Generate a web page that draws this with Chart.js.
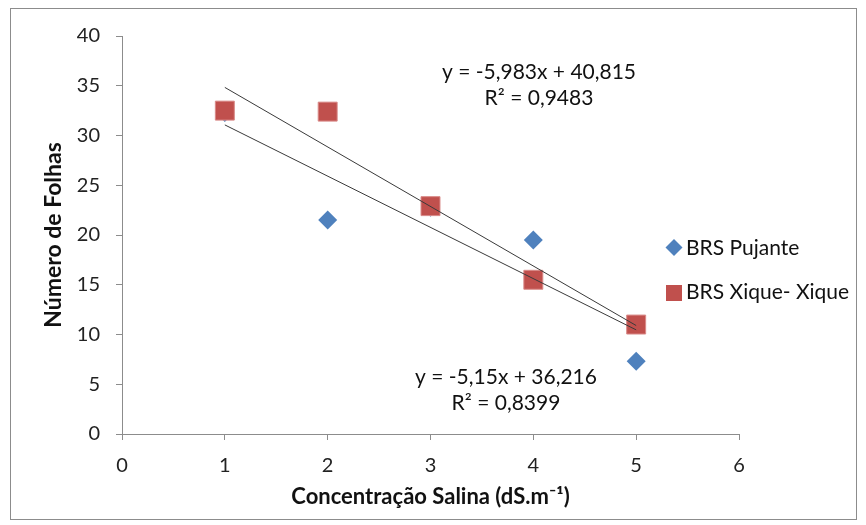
<!DOCTYPE html>
<html>
<head>
<meta charset="utf-8">
<script src="https://cdn.jsdelivr.net/npm/chart.js@4"></script>
<style>
  html, body { margin: 0; padding: 0; background: #fff; }
  #wrap { width: 866px; height: 525px; }
</style>
</head>
<body>
<div id="wrap"><canvas id="chart" width="866" height="525"></canvas></div>
<script>
const salinity = [1, 2, 3, 4, 5];
const pujante = [32.3, 21.5, 22.8, 19.5, 7.3];
const xique = [32.5, 32.4, 22.9, 15.5, 11.0];

// trend lines as printed on the chart
const pujanteFit = [-5.15, 36.216];
const xiqueFit = [-5.983, 40.815];
const pujanteLabel = ["y = -5,15x + 36,216", "R² = 0,8399"];
const xiqueLabel = ["y = -5,983x + 40,815", "R² = 0,9483"];

const xTicks = [0, 1, 2, 3, 4, 5, 6];
const yTicks = [0, 5, 10, 15, 20, 25, 30, 35, 40];

const FONT = "Lato, 'Open Sans', sans-serif";
const BLUE = "#4f81bd";
const RED = "#c0504d";

function fitLine(fit) {
  const x0 = salinity[0], x1 = salinity[salinity.length - 1];
  return [
    { x: x0, y: fit[0] * x0 + fit[1] },
    { x: x1, y: fit[0] * x1 + fit[1] },
  ];
}

const extras = {
  id: "extras",
  beforeDraw(chart) {
    const c = chart.ctx;
    c.save();
    c.fillStyle = "#fff";
    c.fillRect(0, 0, chart.width, chart.height);
    c.strokeStyle = "#8c8c8c";
    c.lineWidth = 1;
    c.strokeRect(10.5, 8.5, 846, 511);
    c.restore();
  },
  afterDraw(chart) {
    const c = chart.ctx;
    c.save();
    c.fillStyle = "#111";
    c.font = "21px " + FONT;
    c.textAlign = "center";
    c.textBaseline = "middle";
    c.fillText(xiqueLabel[0], 539, 72);
    c.fillText(xiqueLabel[1], 539, 98);
    c.fillText(pujanteLabel[0], 506, 377);
    c.fillText(pujanteLabel[1], 506, 403);

    // legend
    c.textAlign = "left";
    c.fillStyle = BLUE;
    c.beginPath();
    c.moveTo(674, 239); c.lineTo(682.5, 247.5); c.lineTo(674, 256); c.lineTo(665.5, 247.5);
    c.closePath(); c.fill();
    c.fillStyle = RED;
    c.fillRect(666, 285, 16, 16);
    c.fillStyle = "#111";
    c.fillText("BRS Pujante", 686, 248);
    c.fillText("BRS Xique- Xique", 686, 292);
    c.restore();
  },
};

new Chart(document.getElementById("chart"), {
  type: "scatter",
  data: {
    datasets: [
      {
        type: "line",
        data: fitLine(xiqueFit),
        borderColor: "#3a3a3a",
        borderWidth: 1,
        pointRadius: 0,
        order: 0,
      },
      {
        type: "line",
        data: fitLine(pujanteFit),
        borderColor: "#3a3a3a",
        borderWidth: 1,
        pointRadius: 0,
        order: 0,
      },
      {
        label: "BRS Xique- Xique",
        data: salinity.map((x, i) => ({ x: x, y: xique[i] })),
        pointStyle: "rect",
        pointRadius: 13.4,
        backgroundColor: RED,
        borderColor: "#d98a88",
        borderWidth: 1,
        order: 1,
      },
      {
        label: "BRS Pujante",
        data: salinity.map((x, i) => ({ x: x, y: pujante[i] })),
        pointStyle: "rectRot",
        pointRadius: 9.5,
        backgroundColor: BLUE,
        borderColor: BLUE,
        borderWidth: 0,
        order: 2,
      },
    ],
  },
  options: {
    responsive: false,
    animation: false,
    events: [],
    layout: { padding: { left: 0, right: 127, top: 36, bottom: 0 } },
    plugins: {
      legend: { display: false },
      tooltip: { enabled: false },
    },
    scales: {
      x: {
        type: "linear",
        min: 0,
        max: 6,
        afterFit(s) { s.height = 91; },
        afterBuildTicks(s) { s.ticks = xTicks.map(v => ({ value: v })); },
        grid: { drawOnChartArea: false, drawTicks: true, tickLength: 6, color: "#8c8c8c" },
        border: { display: true, color: "#8c8c8c" },
        ticks: { color: "#222", font: { family: FONT, size: 20 }, padding: 14 },
        title: {
          display: true,
          text: "Concentração Salina (dS.m⁻¹)",
          color: "#111",
          font: { family: FONT, size: 22, weight: "bold" },
          padding: { top: 0, bottom: 15 },
        },
      },
      y: {
        min: 0,
        max: 40,
        afterFit(s) { s.width = 122; },
        afterBuildTicks(s) { s.ticks = yTicks.map(v => ({ value: v })); },
        grid: { drawOnChartArea: false, drawTicks: true, tickLength: 6, color: "#8c8c8c" },
        border: { display: true, color: "#8c8c8c" },
        ticks: { color: "#222", font: { family: FONT, size: 20 }, padding: 16 },
        title: {
          display: true,
          text: "Número de Folhas",
          color: "#111",
          font: { family: FONT, size: 23, weight: "bold" },
          padding: { top: 40, bottom: 0 },
        },
      },
    },
  },
  plugins: [extras],
});
</script>
</body>
</html>
